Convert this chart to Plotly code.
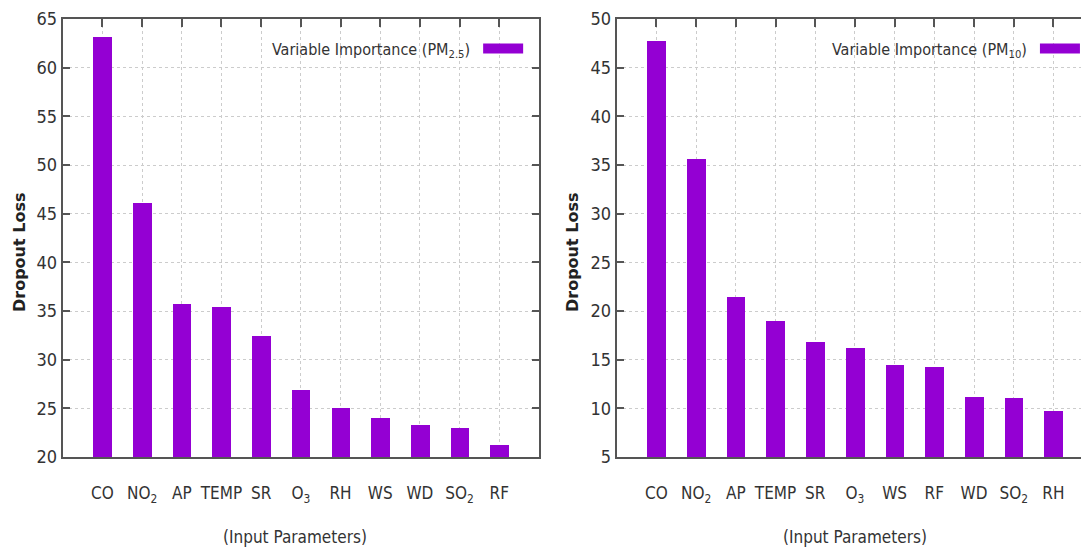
import plotly.graph_objects as go

# ---------------- data ----------------
cats_pm25 = ["CO", "NO<sub>2</sub>", "AP", "TEMP", "SR", "O<sub>3</sub>", "RH", "WS", "WD", "SO<sub>2</sub>", "RF"]
vals_pm25 = [63.2, 46.1, 35.7, 35.4, 32.4, 26.9, 25.0, 24.0, 23.3, 23.0, 21.2]

cats_pm10 = ["CO", "NO<sub>2</sub>", "AP", "TEMP", "SR", "O<sub>3</sub>", "WS", "RF", "WD", "SO<sub>2</sub>", "RH"]
vals_pm10 = [47.7, 35.6, 21.4, 19.0, 16.8, 16.2, 14.5, 14.2, 11.2, 11.1, 9.7]

legend_pm25 = "Variable Importance (PM<sub>2.5</sub>)"
legend_pm10 = "Variable Importance (PM<sub>10</sub>)"
ytitle = "Dropout Loss"
xtitle = "(Input Parameters)"

# ---------------- style ----------------
W, H = 1081, 548
PURPLE = "#9400D3"
NARROW = "Liberation Sans Narrow, DejaVu Sans Condensed, Arial Narrow, sans-serif"
AXC = "#555555"
TXT = "#333333"

def px_x(p):
    return p / W

T, B = 19, 91
def px_y(p):
    return (H - B - p) / (H - T - B)

fig = go.Figure()

idx25 = list(range(len(cats_pm25)))
idx10 = list(range(len(cats_pm10)))

fig.add_trace(go.Bar(x=idx25, y=vals_pm25, marker=dict(color=PURPLE, line=dict(width=0)),
                     width=0.47, xaxis="x", yaxis="y", showlegend=False))
fig.add_trace(go.Bar(x=idx10, y=vals_pm10, marker=dict(color=PURPLE, line=dict(width=0)),
                     width=0.47, xaxis="x2", yaxis="y2", showlegend=False))

# legend samples
fig.add_trace(go.Scatter(x=[None], y=[None], mode="lines", name=" ",
                         line=dict(color=PURPLE, width=15), xaxis="x", yaxis="y",
                         legend="legend", showlegend=True))
fig.add_trace(go.Scatter(x=[None], y=[None], mode="lines", name=" ",
                         line=dict(color=PURPLE, width=15), xaxis="x2", yaxis="y2",
                         legend="legend2", showlegend=True))

def xaxis_common(cats, rng, dom):
    return dict(domain=dom, range=rng, tickmode="array", tickvals=list(range(len(cats))),
                ticktext=cats, ticks="inside", ticklen=8, tickcolor=AXC, tickwidth=1.5,
                showline=True, linecolor=AXC, linewidth=2, mirror="ticks",
                showgrid=True, gridcolor="#cccccc", griddash="dot", gridwidth=1,
                zeroline=False, layer="below traces",
                tickfont=dict(family=NARROW, size=17, color=TXT),
                ticklabelstandoff=20)

def yaxis_common(rng, mirror):
    return dict(domain=[0, 1], range=rng, dtick=5, tick0=0, ticks="inside", ticklen=7,
                tickcolor=AXC, tickwidth=2,
                showline=True, linecolor=AXC, linewidth=2, mirror=mirror,
                showgrid=True, gridcolor="#cccccc", griddash="dot", gridwidth=1,
                zeroline=False,
                tickfont=dict(family=NARROW, size=18, color=TXT))

left_dom = [px_x(62.7), px_x(539)]
right_dom = [px_x(616.7), 1.0]
right_end = (W - 616.7) / 39.7 - 1

fig.update_layout(
    width=W, height=H,
    margin=dict(l=0, r=0, t=T, b=B, autoexpand=False),
    paper_bgcolor="white", plot_bgcolor="white",
    bargap=0,
    xaxis=xaxis_common(cats_pm25, [-1, 11], left_dom),
    yaxis=dict(anchor="x", **yaxis_common([20, 65], "ticks")),
    xaxis2=dict(anchor="y2", **xaxis_common(cats_pm10, [-1, right_end], right_dom)),
    yaxis2=dict(anchor="x2", **yaxis_common([5, 50], False)),
    legend=dict(x=px_x(534), y=px_y(34), xanchor="right", yanchor="top",
                bgcolor="rgba(0,0,0,0)", itemwidth=40,
                title=dict(text=legend_pm25, side="left",
                           font=dict(family=NARROW, size=16, color=TXT)),
                font=dict(family=NARROW, size=2, color=TXT)),
    legend2=dict(x=px_x(1091), y=px_y(34), xanchor="right", yanchor="top",
                 bgcolor="rgba(0,0,0,0)", itemwidth=40,
                 title=dict(text=legend_pm10, side="left",
                            font=dict(family=NARROW, size=16, color=TXT)),
                 font=dict(family=NARROW, size=2, color=TXT)),
    annotations=[
        dict(text=ytitle, x=px_x(19), y=px_y(253), xref="paper", yref="paper",
             xanchor="center", yanchor="middle", textangle=-90, showarrow=False,
             font=dict(family="DejaVu Sans", size=16, color="#222222", weight="bold")),
        dict(text=ytitle, x=px_x(572), y=px_y(253), xref="paper", yref="paper",
             xanchor="center", yanchor="middle", textangle=-90, showarrow=False,
             font=dict(family="DejaVu Sans", size=16, color="#222222", weight="bold")),
        dict(text=xtitle, x=px_x(295), y=px_y(537), xref="paper", yref="paper",
             xanchor="center", yanchor="middle", showarrow=False,
             font=dict(family=NARROW, size=17, color=TXT)),
        dict(text=xtitle, x=px_x(855), y=px_y(537), xref="paper", yref="paper",
             xanchor="center", yanchor="middle", showarrow=False,
             font=dict(family=NARROW, size=17, color=TXT)),
    ],
)

fig.write_html("out.html")
